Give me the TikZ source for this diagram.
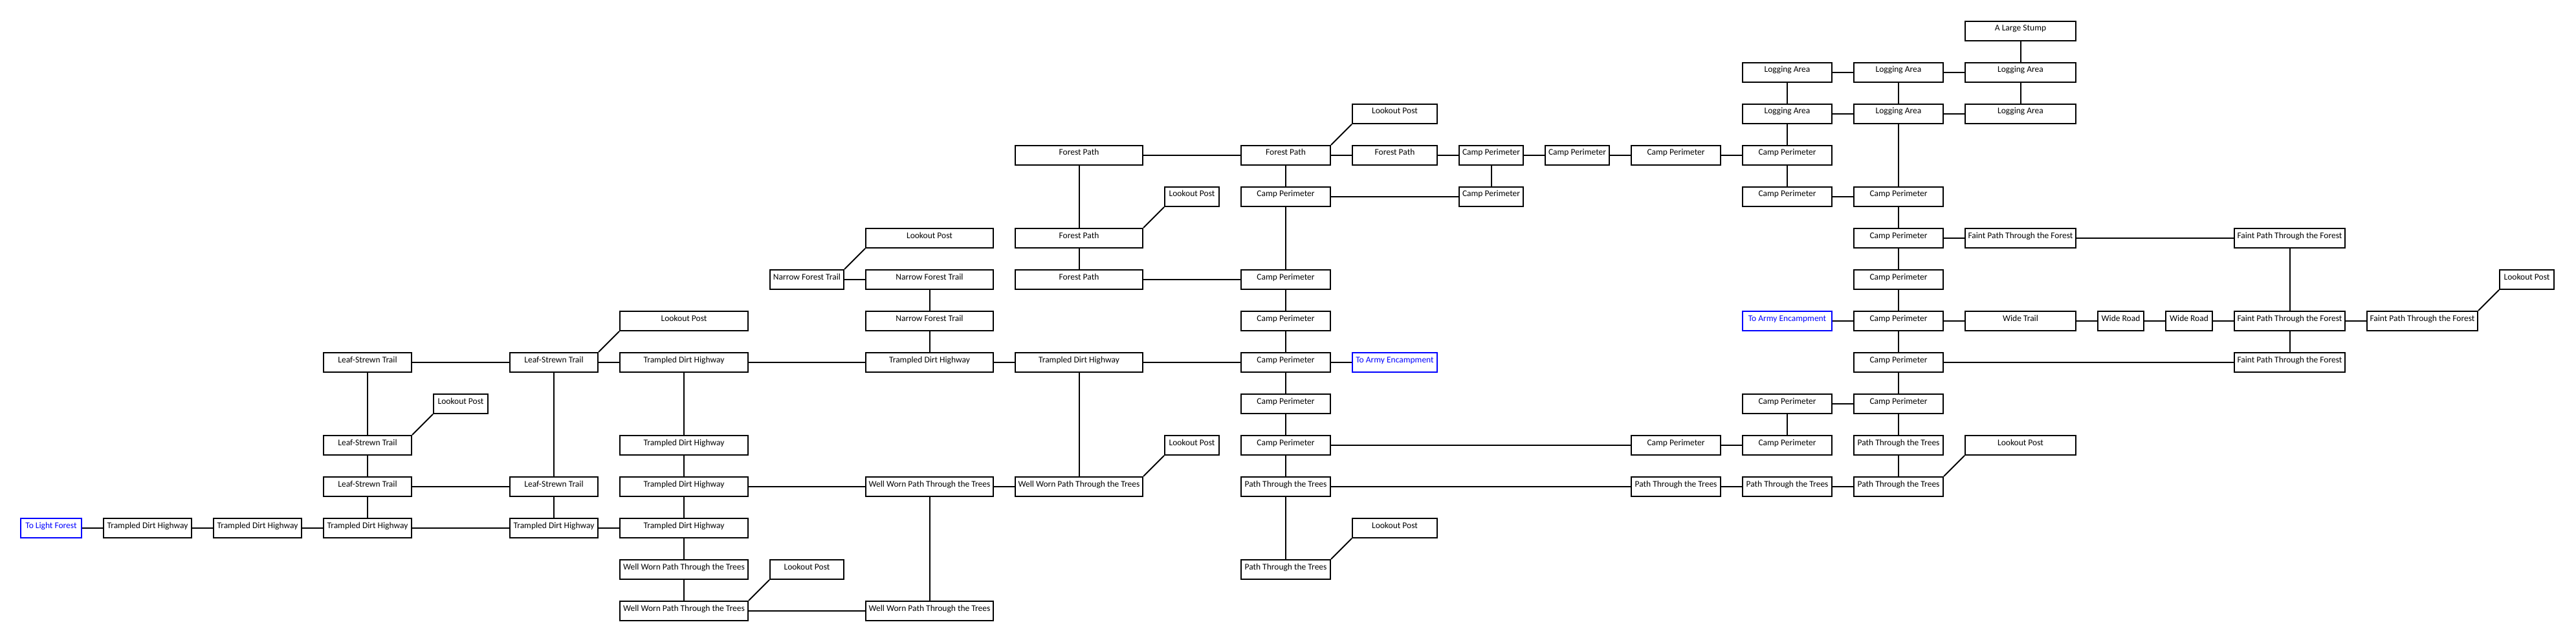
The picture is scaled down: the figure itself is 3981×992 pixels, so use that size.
\documentclass[tikz,border=0pt]{standalone}
\usepackage{fontspec}
\setmainfont{Carlito}
\newcommand\colset[3]{\expandafter\def\csname cx#1\endcsname{#2}\expandafter\def\csname cw#1\endcsname{#3}}
\colset{1}{79}{96}
\colset{2}{228}{138}
\colset{3}{398}{138}
\colset{4}{568}{138}
\colset{5}{712}{86}
\colset{6}{856}{138}
\colset{7}{1057}{200}
\colset{8}{1247}{116}
\colset{9}{1436.5}{199}
\colset{10}{1667.5}{199}
\colset{11}{1842}{86}
\colset{12}{1987}{140}
\colset{13}{2155.5}{133}
\colset{14}{2304.5}{101}
\colset{15}{2437.5}{101}
\colset{16}{2590}{140}
\colset{17}{2762}{140}
\colset{18}{2934}{140}
\colset{19}{3122.5}{173}
\colset{20}{3277.5}{73}
\colset{21}{3383}{74}
\colset{22}{3538.5}{173}
\colset{23}{3743.5}{173}
\colset{24}{3905}{86}
\newcommand\place[4][]{\node[room,#1,minimum width={\csname cw#3\endcsname pt-2pt}] (r#2c#3) at ({\csname cx#3\endcsname},{-48-64*#2}) {#4};}
\newcommand\lnk[2]{\draw[link] (#1) -- (#2);}
\newcommand\dgl[2]{\draw[link] (#1.north east) -- (#2.south west);}
\definecolor{exitblue}{RGB}{0,0,255}
\tikzset{
  room/.style={draw=black, line width=2pt, minimum height=30pt, inner sep=0pt,
    text height=15pt, text depth=15pt, font=\fontsize{13.5}{16}\selectfont, fill=white},
  exit/.style={draw=exitblue, text=exitblue},
  link/.style={line width=2pt, black}
}
\begin{document}
\begin{tikzpicture}[x=1pt,y=1pt]
\useasboundingbox[fill=white] (0,0) rectangle (3981,-992);
% row 0
\place{0}{19}{A Large Stump}
% row 1
\place{1}{17}{Logging Area}
\place{1}{18}{Logging Area}
\place{1}{19}{Logging Area}
% row 2
\place{2}{13}{Lookout Post}
\place{2}{17}{Logging Area}
\place{2}{18}{Logging Area}
\place{2}{19}{Logging Area}
% row 3
\place{3}{10}{Forest Path}
\place{3}{12}{Forest Path}
\place{3}{13}{Forest Path}
\place{3}{14}{Camp Perimeter}
\place{3}{15}{Camp Perimeter}
\place{3}{16}{Camp Perimeter}
\place{3}{17}{Camp Perimeter}
% row 4
\place{4}{11}{Lookout Post}
\place{4}{12}{Camp Perimeter}
\place{4}{14}{Camp Perimeter}
\place{4}{17}{Camp Perimeter}
\place{4}{18}{Camp Perimeter}
% row 5
\place{5}{9}{Lookout Post}
\place{5}{10}{Forest Path}
\place{5}{18}{Camp Perimeter}
\place{5}{19}{Faint Path Through the Forest}
\place{5}{22}{Faint Path Through the Forest}
% row 6
\place{6}{8}{Narrow Forest Trail}
\place{6}{9}{Narrow Forest Trail}
\place{6}{10}{Forest Path}
\place{6}{12}{Camp Perimeter}
\place{6}{18}{Camp Perimeter}
\place{6}{24}{Lookout Post}
% row 7
\place{7}{7}{Lookout Post}
\place{7}{9}{Narrow Forest Trail}
\place{7}{12}{Camp Perimeter}
\place[exit]{7}{17}{To Army Encampment}
\place{7}{18}{Camp Perimeter}
\place{7}{19}{Wide Trail}
\place{7}{20}{Wide Road}
\place{7}{21}{Wide Road}
\place{7}{22}{Faint Path Through the Forest}
\place{7}{23}{Faint Path Through the Forest}
% row 8
\place{8}{4}{Leaf-Strewn Trail}
\place{8}{6}{Leaf-Strewn Trail}
\place{8}{7}{Trampled Dirt Highway}
\place{8}{9}{Trampled Dirt Highway}
\place{8}{10}{Trampled Dirt Highway}
\place{8}{12}{Camp Perimeter}
\place[exit]{8}{13}{To Army Encampment}
\place{8}{18}{Camp Perimeter}
\place{8}{22}{Faint Path Through the Forest}
% row 9
\place{9}{5}{Lookout Post}
\place{9}{12}{Camp Perimeter}
\place{9}{17}{Camp Perimeter}
\place{9}{18}{Camp Perimeter}
% row 10
\place{10}{4}{Leaf-Strewn Trail}
\place{10}{7}{Trampled Dirt Highway}
\place{10}{11}{Lookout Post}
\place{10}{12}{Camp Perimeter}
\place{10}{16}{Camp Perimeter}
\place{10}{17}{Camp Perimeter}
\place{10}{18}{Path Through the Trees}
\place{10}{19}{Lookout Post}
% row 11
\place{11}{4}{Leaf-Strewn Trail}
\place{11}{6}{Leaf-Strewn Trail}
\place{11}{7}{Trampled Dirt Highway}
\place{11}{9}{Well Worn Path Through the Trees}
\place{11}{10}{Well Worn Path Through the Trees}
\place{11}{12}{Path Through the Trees}
\place{11}{16}{Path Through the Trees}
\place{11}{17}{Path Through the Trees}
\place{11}{18}{Path Through the Trees}
% row 12
\place[exit]{12}{1}{To Light Forest}
\place{12}{2}{Trampled Dirt Highway}
\place{12}{3}{Trampled Dirt Highway}
\place{12}{4}{Trampled Dirt Highway}
\place{12}{6}{Trampled Dirt Highway}
\place{12}{7}{Trampled Dirt Highway}
\place{12}{13}{Lookout Post}
% row 13
\place{13}{7}{Well Worn Path Through the Trees}
\place{13}{8}{Lookout Post}
\place{13}{12}{Path Through the Trees}
% row 14
\place{14}{7}{Well Worn Path Through the Trees}
\place{14}{9}{Well Worn Path Through the Trees}
% connectors
\lnk{r12c1}{r12c2}\lnk{r12c2}{r12c3}\lnk{r12c3}{r12c4}
\lnk{r8c4}{r10c4}\lnk{r10c4}{r11c4}\lnk{r11c4}{r12c4}
\dgl{r10c4}{r9c5}
\lnk{r8c4}{r8c6}\lnk{r11c4}{r11c6}\lnk{r12c4}{r12c6}
\dgl{r8c6}{r7c7}\lnk{r8c6}{r8c7}\lnk{r8c6}{r11c6}\lnk{r11c6}{r12c6}\lnk{r12c6}{r12c7}
\lnk{r8c7}{r10c7}\lnk{r10c7}{r11c7}\lnk{r11c7}{r12c7}\lnk{r12c7}{r13c7}\lnk{r13c7}{r14c7}
\dgl{r14c7}{r13c8}\lnk{r14c7}{r14c9}
\lnk{r8c7}{r8c9}\lnk{r11c7}{r11c9}
\dgl{r6c8}{r5c9}\lnk{r6c8}{r6c9}\lnk{r6c9}{r7c9}\lnk{r7c9}{r8c9}\lnk{r8c9}{r8c10}
\lnk{r11c9}{r14c9}\lnk{r11c9}{r11c10}
\lnk{r8c10}{r11c10}\lnk{r8c10}{r8c12}\dgl{r11c10}{r10c11}
\lnk{r3c10}{r5c10}\lnk{r5c10}{r6c10}\dgl{r5c10}{r4c11}\lnk{r6c10}{r6c12}\lnk{r3c10}{r3c12}
\dgl{r3c12}{r2c13}\lnk{r3c12}{r3c13}\lnk{r3c13}{r3c14}\lnk{r3c12}{r4c12}\lnk{r4c12}{r4c14}
\lnk{r4c12}{r6c12}\lnk{r6c12}{r7c12}\lnk{r7c12}{r8c12}\lnk{r8c12}{r8c13}\lnk{r8c12}{r9c12}
\lnk{r9c12}{r10c12}\lnk{r10c12}{r11c12}\lnk{r11c12}{r13c12}\dgl{r13c12}{r12c13}
\lnk{r10c12}{r10c16}\lnk{r11c12}{r11c16}
\lnk{r3c14}{r3c15}\lnk{r3c15}{r3c16}\lnk{r3c16}{r3c17}\lnk{r3c14}{r4c14}
\lnk{r0c19}{r1c19}\lnk{r1c17}{r1c18}\lnk{r1c18}{r1c19}
\lnk{r1c17}{r2c17}\lnk{r1c18}{r2c18}\lnk{r1c19}{r2c19}
\lnk{r2c17}{r2c18}\lnk{r2c18}{r2c19}
\lnk{r2c17}{r3c17}\lnk{r3c17}{r4c17}\lnk{r4c17}{r4c18}\lnk{r2c18}{r4c18}
\lnk{r4c18}{r5c18}\lnk{r5c18}{r5c19}\lnk{r5c19}{r5c22}\lnk{r5c18}{r6c18}\lnk{r6c18}{r7c18}
\lnk{r7c17}{r7c18}\lnk{r7c18}{r7c19}\lnk{r7c19}{r7c20}\lnk{r7c20}{r7c21}\lnk{r7c21}{r7c22}
\lnk{r5c22}{r7c22}\lnk{r7c22}{r7c23}\dgl{r7c23}{r6c24}\lnk{r7c22}{r8c22}
\lnk{r7c18}{r8c18}\lnk{r8c18}{r8c22}\lnk{r8c18}{r9c18}\lnk{r9c17}{r9c18}
\lnk{r9c17}{r10c17}\lnk{r9c18}{r10c18}\lnk{r10c18}{r11c18}\dgl{r11c18}{r10c19}
\lnk{r10c16}{r10c17}\lnk{r11c16}{r11c17}\lnk{r11c17}{r11c18}
\end{tikzpicture}
\end{document}
